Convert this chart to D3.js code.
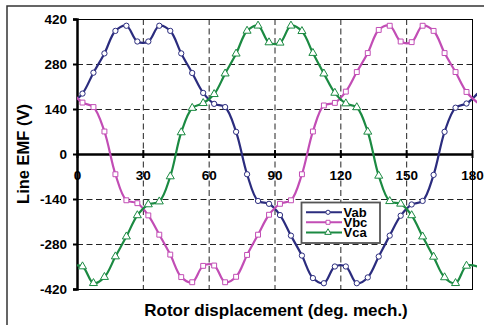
<!DOCTYPE html>
<html><head><meta charset="utf-8">
<script src="https://cdn.jsdelivr.net/npm/d3@7/dist/d3.min.js"></script>
<style>
html,body{margin:0;padding:0;background:#fff;}
svg{display:block;font-family:"Liberation Sans",Arial,sans-serif;}
</style></head>
<body><svg id="c" width="484" height="325"></svg>
<script>
// rotor angle (deg. mech.) of each sample; first and last lie just outside the axis range
const angles = [-2.5, 2.5, 7.5, 12.5, 17.5, 22.5, 27.5, 32.5, 37.5, 42.5, 47.5, 52.5, 57.5, 62.5, 67.5, 72.5, 77.5, 82.5, 87.5,
  92.5, 97.5, 102.5, 107.5, 112.5, 117.5, 122.5, 127.5, 132.5, 137.5, 142.5, 147.5, 152.5, 157.5, 162.5, 167.5, 172.5, 177.5, 182.5];
const Vab = [157, 188, 253, 313, 383, 399, 350, 350, 399, 383, 313, 252, 190, 156, 146, 69, -63, -146, -155,
  -190, -254, -316, -386, -402, -350, -350, -402, -384, -319, -254, -192, -157, -146, -65, 69, 144, 157, 188];
const Vbc = [193, 160, 146, 70, -63, -144, -153, -191, -251, -313, -383, -399, -348, -347, -399, -382, -314, -251, -189,
  -155, -144, -63, 70, 151, 159, 194, 255, 314, 386, 399, 350, 348, 399, 383, 314, 255, 193, 160];
const Vca = [-348, -350, -402, -383, -319, -257, -191, -157, -148, -70, 67, 143, 158, 186, 250, 312, 383, 399, 347,
  346, 399, 382, 314, 250, 190, 157, 145, 69, -68, -147, -155, -191, -257, -320, -384, -402, -348, -350];
const seriesNames = ["Vab", "Vbc", "Vca"];
const seriesValues = [Vab, Vbc, Vca];
const xTicks = [0, 30, 60, 90, 120, 150, 180];
const yTicks = [-420, -280, -140, 0, 140, 280, 420];

const colors = ["#2b2c7e", "#c24db5", "#1b8a42"];
const markers = ["circle", "square", "triangle"];

const svg = d3.select("#c");
const L = 77, R = 472, T = 19, B = 289;
const x = d3.scaleLinear().domain([0, 180]).range([L, R]);
const y = d3.scaleLinear().domain([-420, 420]).range([B, T]);
const FONT = "Liberation Sans, Arial, sans-serif";

// outer frame
svg.append("rect").attr("x", 7).attr("y", 6).attr("width", 500).attr("height", 340)
  .attr("fill", "none").attr("stroke", "#333").attr("stroke-width", 1.5);

// grid
const grid = svg.append("g").attr("stroke", "#222").attr("stroke-width", 1).attr("stroke-dasharray", "6,3.5");
grid.selectAll("line.v").data(xTicks.filter(d => d > 0 && d < 180)).enter().append("line")
  .attr("x1", d => x(d) + 0.5).attr("x2", d => x(d) + 0.5).attr("y1", T).attr("y2", B);
grid.selectAll("line.h").data(yTicks.filter(d => d !== 0 && Math.abs(d) < 420)).enter().append("line")
  .attr("y1", d => y(d) + 0.5).attr("y2", d => y(d) + 0.5).attr("x1", L).attr("x2", R);

// plot border
svg.append("rect").attr("x", L + 0.5).attr("y", T + 0.5).attr("width", R - L).attr("height", B - T)
  .attr("fill", "none").attr("stroke", "#000").attr("stroke-width", 1);

// y axis
const yAxis = d3.axisLeft(y).tickValues(yTicks).tickSize(4).tickPadding(6).tickFormat(d => String(d));
const gy = svg.append("g").attr("transform", `translate(${L},0)`).call(yAxis);
gy.select(".domain").attr("stroke-width", 2.5);
gy.selectAll(".tick line").attr("stroke-width", 2);
gy.selectAll("text").attr("font-size", 13.5).attr("font-weight", "bold").attr("fill", "#000")
  .attr("font-family", FONT);

// x axis along zero
const xAxis = d3.axisBottom(x).tickValues(xTicks).tickSize(0).tickPadding(0).tickFormat(d => String(d));
const gx = svg.append("g").attr("transform", `translate(0,${y(0)})`).call(xAxis);
gx.select(".domain").attr("stroke-width", 2.5);
gx.selectAll(".tick text").attr("y", 25.5).attr("dy", 0).attr("font-size", 13.5).attr("font-weight", "bold")
  .attr("fill", "#000").attr("font-family", FONT);
gx.selectAll(".tick").append("line").attr("y1", -4).attr("y2", 4).attr("stroke", "#000").attr("stroke-width", 2);

// series
svg.append("clipPath").attr("id", "clip").append("rect")
  .attr("x", L).attr("y", 0).attr("width", R - L + 5).attr("height", 325);
const line = d3.line().x(d => x(d[0])).y(d => y(d[1])).curve(d3.curveCatmullRom.alpha(0.5));
const sym = {
  circle: d3.symbol().type(d3.symbolCircle).size(22),
  square: d3.symbol().type(d3.symbolSquare).size(24),
  triangle: d3.symbol().type(d3.symbolTriangle).size(28)
};
seriesValues.forEach((vals, i) => {
  const pts = angles.map((a, j) => [a, vals[j]]);
  svg.append("path").attr("clip-path", "url(#clip)").attr("d", line(pts))
    .attr("fill", "none").attr("stroke", colors[i]).attr("stroke-width", 2.2);
  svg.append("g").selectAll("path").data(pts.filter(p => p[0] >= 0 && p[0] <= 180)).enter().append("path")
    .attr("transform", p => `translate(${x(p[0])},${y(p[1])})`)
    .attr("d", sym[markers[i]]).attr("fill", "#fff").attr("stroke", colors[i]).attr("stroke-width", 1);
});

// legend
const lg = svg.append("g");
lg.append("rect").attr("x", 301.5).attr("y", 202.5).attr("width", 78.5).attr("height", 40.5)
  .attr("fill", "#fff").attr("stroke", "#555").attr("stroke-width", 1.8);
const rowsY = [212.3, 222.3, 232.5];
const legSym = {
  circle: d3.symbol().type(d3.symbolCircle).size(14),
  square: d3.symbol().type(d3.symbolSquare).size(16),
  triangle: d3.symbol().type(d3.symbolTriangle).size(18)
};
seriesNames.forEach((n, i) => {
  lg.append("line").attr("x1", 306).attr("x2", 342).attr("y1", rowsY[i]).attr("y2", rowsY[i])
    .attr("stroke", colors[i]).attr("stroke-width", 2);
  lg.append("path").attr("transform", `translate(328,${rowsY[i]})`).attr("d", legSym[markers[i]])
    .attr("fill", "#fff").attr("stroke", colors[i]).attr("stroke-width", 1);
  lg.append("text").attr("x", 343.5).attr("y", rowsY[i] + 4.8).attr("font-size", 13).attr("font-weight", "bold")
    .text(n);
});

// axis titles
svg.append("text").attr("x", 276).attr("y", 316).attr("text-anchor", "middle")
  .attr("font-size", 17).attr("font-weight", "bold").text("Rotor displacement (deg. mech.)");
svg.append("text").attr("transform", "translate(28.5,154) rotate(-90)").attr("text-anchor", "middle")
  .attr("font-size", 16.5).attr("font-weight", "bold").text("Line EMF (V)");
</script></body></html>
